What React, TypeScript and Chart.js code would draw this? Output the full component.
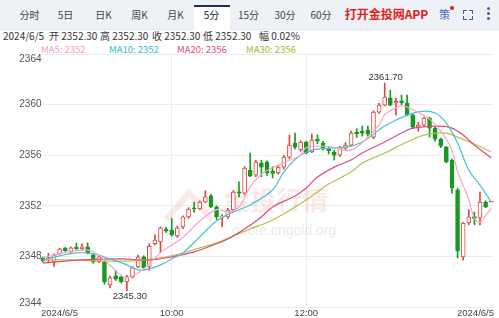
import React, { useEffect, useRef } from 'react';
import { Chart, registerables } from 'chart.js';
Chart.register(...registerables);

// ---- Data (5-minute candles, 2024/6/5) ----
const DATE = '2024/6/5';
const OPEN = [2347.85,2347.80,2347.57,2348.20,2348.67,2348.36,2348.72,2348.59,2348.75,2348.12,2347.57,2347.57,2345.75,2346.46,2346.38,2345.99,2346.38,2347.17,2347.96,2347.20,2349.00,2349.14,2350.15,2350.09,2349.62,2350.33,2351.12,2351.83,2351.75,2352.30,2352.78,2351.91,2351.10,2351.12,2351.67,2353.10,2353.00,2354.80,2354.43,2355.38,2355.46,2354.75,2354.59,2355.06,2355.85,2356.96,2356.41,2357.04,2356.25,2357.25,2356.96,2356.50,2356.25,2356.01,2356.56,2356.80,2357.80,2357.90,2357.98,2357.43,2359.40,2359.96,2360.51,2360.12,2360.30,2360.12,2359.17,2358.22,2358.38,2358.93,2358.14,2357.27,2356.64,2355.62,2353.25,2347.96,2350.64,2351.15,2351.04,2352.30,2352.30];
const HIGH = [2347.95,2348.25,2348.20,2348.65,2348.70,2348.75,2349.05,2349.00,2349.07,2348.20,2348.05,2347.65,2346.45,2346.90,2346.45,2346.50,2347.20,2348.10,2348.05,2349.00,2349.70,2350.33,2350.30,2351.00,2350.40,2351.20,2351.85,2352.30,2352.40,2353.20,2352.90,2352.00,2351.30,2351.80,2353.20,2353.90,2355.10,2356.17,2355.60,2355.60,2355.55,2355.10,2355.20,2356.00,2357.59,2357.75,2357.15,2357.10,2357.67,2357.60,2357.10,2356.70,2356.40,2356.70,2357.00,2357.90,2358.10,2358.30,2358.30,2359.50,2360.10,2361.70,2361.14,2360.50,2360.75,2360.75,2359.30,2358.60,2359.00,2359.00,2358.20,2357.35,2356.70,2355.70,2353.40,2350.70,2351.70,2351.50,2353.09,2352.40,2352.30];
const LOW = [2347.55,2347.50,2347.20,2348.15,2348.40,2348.30,2348.55,2348.50,2348.20,2347.45,2347.50,2345.80,2345.50,2346.10,2345.90,2345.30,2346.30,2347.10,2346.90,2346.90,2348.90,2348.30,2349.90,2349.60,2349.50,2350.20,2351.00,2351.50,2351.70,2352.25,2351.85,2350.90,2350.33,2351.00,2351.60,2352.70,2352.90,2354.30,2354.30,2354.30,2354.40,2354.20,2354.50,2354.90,2355.70,2356.50,2356.30,2356.10,2356.20,2356.90,2356.40,2356.10,2355.62,2355.90,2356.40,2356.70,2357.40,2357.50,2357.50,2357.30,2359.30,2359.90,2359.90,2359.17,2360.00,2359.10,2358.10,2357.90,2358.30,2357.43,2357.10,2356.60,2355.40,2353.00,2347.88,2347.72,2350.50,2350.50,2350.49,2351.85,2352.30];
const CLOSE = [2347.65,2347.90,2348.12,2348.59,2348.43,2348.67,2348.62,2348.75,2348.28,2347.57,2347.96,2345.99,2346.30,2346.20,2346.00,2346.38,2347.09,2347.96,2347.09,2348.80,2349.30,2350.25,2350.00,2349.70,2350.25,2351.12,2351.75,2351.75,2352.30,2352.70,2351.91,2351.12,2351.15,2351.67,2353.09,2353.00,2354.98,2354.35,2355.46,2355.06,2354.59,2354.55,2355.06,2355.85,2356.80,2356.64,2357.04,2356.17,2357.20,2357.10,2356.56,2356.35,2356.01,2356.56,2356.80,2357.75,2357.70,2357.75,2357.67,2359.40,2359.96,2360.59,2359.96,2360.25,2360.15,2359.17,2358.22,2358.38,2358.93,2358.14,2357.27,2356.72,2355.46,2353.41,2348.43,2350.64,2351.12,2351.00,2352.30,2351.91,2352.30];

// Moving averages (candle index -> value)
const MA5_AT = [0,3,5,8,10,12,14,15,17,19,21,23,25,28,31,33,35,37,39,41,44,46,47,51,53,55,57,60,61,64,66,69,71,73,74,76,77,78,79,80];
const MA5_VAL = [2347.9,2348.2,2348.4,2348.5,2348.1,2347.3,2346.5,2346.3,2346.7,2347.4,2348.3,2348.9,2349.5,2350.8,2351.7,2351.5,2351.9,2353.5,2354.5,2355.0,2355.6,2356.0,2356.6,2356.7,2356.5,2356.4,2357.0,2358.4,2359.2,2359.9,2359.6,2358.85,2357.9,2356.4,2354.7,2352.5,2351.0,2350.7,2351.2,2351.8];
const MA10_AT = [0,3,6,9,12,15,17,19,21,23,25,28,31,34,37,41,43,46,49,54,57,61,65,68,70,72,74,76,78,80];
const MA10_VAL = [2347.72,2348.04,2348.28,2348.2,2347.8,2347.33,2346.93,2347.01,2347.33,2347.8,2348.28,2349.54,2350.8,2351.51,2352.07,2353.25,2354.67,2356.01,2356.48,2356.64,2357.04,2358.3,2359.17,2359.48,2359.33,2358.54,2356.96,2354.83,2353.64,2352.3];
const MA20_AT = [0,7,14,19,23,27,30,33,36,39,41,45,47,49,52,55,57,61,64,66,71,73,75,77,80];
const MA20_VAL = [2347.49,2347.72,2347.8,2347.72,2347.96,2348.36,2348.83,2349.38,2350.17,2351.12,2351.91,2352.78,2353.41,2354.27,2355.06,2355.62,2356.17,2357.04,2357.75,2358.14,2358.3,2358.14,2357.59,2356.8,2355.78];
const MA30_AT = [0,5,10,16,21,25,28,31,34,37,41,45,48,51,55,57,61,65,68,72,74,77,80];
const MA30_VAL = [2347.72,2347.72,2347.64,2347.64,2347.88,2348.28,2348.67,2349.07,2349.62,2350.17,2350.88,2351.91,2352.78,2353.72,2354.67,2355.38,2356.17,2357.04,2357.59,2357.75,2357.43,2356.88,2356.25];

const FIRST_MINUTE = 8 * 60 + 5;
const LABELS = OPEN.map((_, i) => {
  const m = FIRST_MINUTE + i * 5;
  return `${Math.floor(m / 60)}:${String(m % 60).padStart(2, '0')}`;
});
const X_TICK_TEXT = [DATE, '10:00', '12:00', DATE];
const Y_MIN = 2344;
const Y_MAX = 2364;
const Y_STEP = 4;

const TABS = ['分时', '5日', '日K', '周K', '月K', '5分', '15分', '30分', '60分'];
const TAB_X = [29.5, 65.5, 103.5, 139.5, 175.5, 211.5, 248.5, 285, 321];
const SELECTED_TAB = 5;

const RED = '#e0463f';
const GREEN = '#169a22';
const MA_COLORS = ['#f4a8c8', '#45c3d2', '#e2497f', '#b3c44a'];
const MA_TEXT_COLORS = ['#f29fc4', '#34bccd', '#e04d89', '#a0bc32'];

function spread(at: number[], val: number[], n: number) {
  const a: (number | null)[] = new Array(n).fill(null);
  at.forEach((k, j) => { a[k] = val[j]; });
  return a;
}

const overlayPlugin = {
  id: 'overlay',
  beforeDatasetsDraw(chart: any) {
    const { ctx } = chart;
    ctx.save();
    // watermark
    ctx.strokeStyle = 'rgba(225,110,100,0.15)';
    ctx.lineWidth = 6;
    ctx.beginPath();
    ctx.moveTo(166, 220); ctx.lineTo(189, 193); ctx.lineTo(212, 220);
    ctx.stroke();
    ctx.fillStyle = 'rgba(225,110,100,0.15)';
    ctx.font = 'bold 26px "Noto Sans CJK SC"';
    ctx.textBaseline = 'middle';
    ctx.textAlign = 'left';
    ctx.fillText('金投行情', 224, 200);
    ctx.fillStyle = 'rgba(160,160,160,0.22)';
    ctx.font = '14px "Liberation Sans"';
    ctx.fillText('quote.cngold.org', 232, 231);
    ctx.restore();
  },
  afterDatasetsDraw(chart: any) {
    const { ctx } = chart;
    const xs = chart.scales.x;
    const ys = chart.scales.y;
    let hi = 0, lo = 0;
    HIGH.forEach((v, i) => { if (v > HIGH[hi]) hi = i; });
    LOW.forEach((v, i) => { if (v < LOW[lo]) lo = i; });
    ctx.save();
    ctx.fillStyle = '#333';
    ctx.font = '9.5px "Liberation Sans"';
    ctx.textAlign = 'center';
    ctx.textBaseline = 'middle';
    ctx.fillText(HIGH[hi].toFixed(2), xs.getPixelForValue(hi) + 1, ys.getPixelForValue(HIGH[hi]) - 6);
    ctx.fillText(LOW[lo].toFixed(2), xs.getPixelForValue(lo) + 3, ys.getPixelForValue(LOW[lo]) + 6);
    ctx.restore();
  },
  afterDraw(chart: any) {
    const { ctx, chartArea } = chart;
    const xs = chart.scales.x;
    const ys = chart.scales.y;
    ctx.save();
    ctx.fillStyle = '#555';
    ctx.font = '10px "Liberation Sans"';
    ctx.textAlign = 'right';
    ctx.textBaseline = 'middle';
    for (let v = Y_MIN; v <= Y_MAX; v += Y_STEP) {
      let y = ys.getPixelForValue(v);
      if (v === Y_MAX) y += 5;
      if (v === Y_MIN) y -= 4;
      ctx.fillText(String(v), 41.5, y);
    }
    ctx.fillStyle = '#444';
    ctx.font = '9.5px "Liberation Sans"';
    const idx = [0, LABELS.indexOf('10:00'), LABELS.indexOf('12:00'), LABELS.length - 1];
    const ty = chartArea.bottom + 6;
    idx.forEach((k, j) => {
      if (j === 0) { ctx.textAlign = 'left'; ctx.fillText(X_TICK_TEXT[j], chartArea.left + 1, ty); }
      else if (j === idx.length - 1) { ctx.textAlign = 'right'; ctx.fillText(X_TICK_TEXT[j], chartArea.right, ty); }
      else { ctx.textAlign = 'center'; ctx.fillText(X_TICK_TEXT[j], xs.getPixelForValue(k), ty); }
    });
    ctx.restore();
  },
};

export default function App() {
  const ref = useRef<HTMLCanvasElement>(null);
  useEffect(() => {
    const canvas = ref.current!;
    const n = OPEN.length;
    const up = OPEN.map((o, i) => CLOSE[i] >= o);
    const tick10 = LABELS.indexOf('10:00');
    const tick12 = LABELS.indexOf('12:00');
    const maSets = [
      ['MA5', MA5_AT, MA5_VAL],
      ['MA10', MA10_AT, MA10_VAL],
      ['MA20', MA20_AT, MA20_VAL],
      ['MA30', MA30_AT, MA30_VAL],
    ] as [string, number[], number[]][];
    const chart = new Chart(canvas, {
      type: 'bar',
      data: {
        labels: LABELS,
        datasets: [
          ...maSets.map(([label, at, val], k) => ({
            type: 'line' as const,
            label,
            data: spread(at, val, n),
            borderColor: MA_COLORS[k],
            borderWidth: 1.2,
            pointRadius: 0,
            tension: 0.35,
            spanGaps: true,
            order: 0,
          })),
          {
            type: 'bar' as const,
            label: 'body',
            data: OPEN.map((o, i) => [o, CLOSE[i]]),
            backgroundColor: up.map((u, i) => (u && OPEN[i] !== CLOSE[i] ? '#ffffff' : u ? RED : GREEN)),
            borderColor: up.map((u) => (u ? RED : GREEN)),
            borderWidth: 1,
            borderSkipped: false,
            barThickness: 4,
            minBarLength: 1,
            grouped: false,
            order: 1,
          } as any,
          {
            type: 'bar' as const,
            label: 'wick',
            data: LOW.map((l, i) => [l, HIGH[i]]),
            backgroundColor: up.map((u) => (u ? RED : GREEN)),
            barThickness: 1,
            grouped: false,
            order: 2,
          } as any,
        ],
      },
      options: {
        responsive: false,
        animation: false,
        devicePixelRatio: 1,
        events: [],
        layout: { padding: { left: 40, right: 5, top: 54, bottom: 11 } },
        plugins: { legend: { display: false }, tooltip: { enabled: false } },
        scales: {
          x: {
            type: 'category',
            offset: true,
            ticks: { display: false, autoSkip: false },
            grid: {
              offset: false,
              drawTicks: false,
              color: (c: any) => (c.tick && (c.tick.value === tick10 || c.tick.value === tick12) ? '#ececec' : 'rgba(0,0,0,0)'),
            },
            border: { display: false },
            afterFit: (s: any) => { s.height = 0; },
          },
          y: {
            min: Y_MIN,
            max: Y_MAX,
            ticks: { display: false, stepSize: Y_STEP },
            grid: { drawTicks: false, color: '#ececec' },
            border: { display: false },
            afterFit: (s: any) => { s.width = 0; },
          },
        },
      } as any,
      plugins: [overlayPlugin],
    });
    return () => chart.destroy();
  }, []);

  const last = OPEN.length - 1;
  const pct = ((CLOSE[last] - CLOSE[last - 1]) / CLOSE[last - 1]) * 100;
  const hdr = [
    [DATE, 3],
    [`开 ${OPEN[last].toFixed(2)}`, 49],
    [`高 ${HIGH[last].toFixed(2)}`, 100],
    [`收 ${CLOSE[last].toFixed(2)}`, 152],
    [`低 ${LOW[last].toFixed(2)}`, 203],
    [`幅 ${pct.toFixed(2)}%`, 259],
  ] as [string, number][];
  const maLegend = [
    [`MA5: ${Math.round(MA5_VAL[MA5_VAL.length - 1])}`, 41],
    [`MA10: ${Math.round(MA10_VAL[MA10_VAL.length - 1])}`, 109],
    [`MA20: ${Math.round(MA20_VAL[MA20_VAL.length - 1])}`, 177],
    [`MA30: ${Math.round(MA30_VAL[MA30_VAL.length - 1])}`, 246],
  ] as [string, number][];
  const font = '"Noto Sans CJK SC", "Liberation Sans", sans-serif';
  const abs = (o: any) => ({ position: 'absolute' as const, whiteSpace: 'nowrap' as const, ...o });

  return (
    <div style={{ position: 'fixed', left: 0, top: 0, width: 499, height: 318, background: '#fff', overflow: 'hidden', fontFamily: font }}>
      <div style={abs({ left: 0, top: 0, width: 499, height: 29, background: '#eef1f6', borderBottom: '1px solid #e3e7ee' })} />
      <div style={abs({ left: 194, top: 5, width: 36, height: 25, background: '#fff', borderTop: '2px solid #1d2f5c', boxSizing: 'border-box' })} />
      {TABS.map((t, i) => (
        <span key={t} style={abs({ left: TAB_X[i], top: 9, transform: 'translateX(-50%)', fontSize: 10, lineHeight: '12px', color: i === SELECTED_TAB ? '#222' : '#444' })}>{t}</span>
      ))}
      <span style={abs({ left: 386.5, top: 7, transform: 'translateX(-50%)', fontSize: 12, lineHeight: '14px', color: '#e3221c', fontWeight: 700 })}>打开金投网APP</span>
      <span style={abs({ left: 439, top: 8, fontSize: 11, lineHeight: '13px', color: '#3f6cc6' })}>策</span>
      <div style={abs({ left: 450, top: 6, width: 4, height: 4, borderRadius: 2, background: '#e01b1b' })} />
      <div style={abs({ left: 463, top: 10, width: 3, height: 3, borderLeft: '1.5px solid #3f5f9a', borderTop: '1.5px solid #3f5f9a' })} />
      <div style={abs({ left: 469, top: 10, width: 3, height: 3, borderRight: '1.5px solid #3f5f9a', borderTop: '1.5px solid #3f5f9a' })} />
      <div style={abs({ left: 463, top: 16, width: 3, height: 3, borderLeft: '1.5px solid #3f5f9a', borderBottom: '1.5px solid #3f5f9a' })} />
      <div style={abs({ left: 469, top: 16, width: 3, height: 3, borderRight: '1.5px solid #3f5f9a', borderBottom: '1.5px solid #3f5f9a' })} />
      {[8, 13, 18].map((y) => (
        <div key={y} style={abs({ left: 487, top: y - 1, width: 2.5, height: 2.5, borderRadius: 1.5, background: '#3f5f9a' })} />
      ))}
      {hdr.map(([t, x]) => (
        <span key={x} style={abs({ left: x, top: 30, fontSize: 10, lineHeight: '12px', color: '#333' })}>{t}</span>
      ))}
      {maLegend.map(([t, x], k) => (
        <span key={x} style={abs({ left: x, top: 43, fontSize: 9.5, lineHeight: '12px', color: MA_TEXT_COLORS[k] })}>{t}</span>
      ))}
      <canvas ref={ref} width={499} height={318} style={{ position: 'absolute', left: 0, top: 0, width: 499, height: 318 }} />
    </div>
  );
}
